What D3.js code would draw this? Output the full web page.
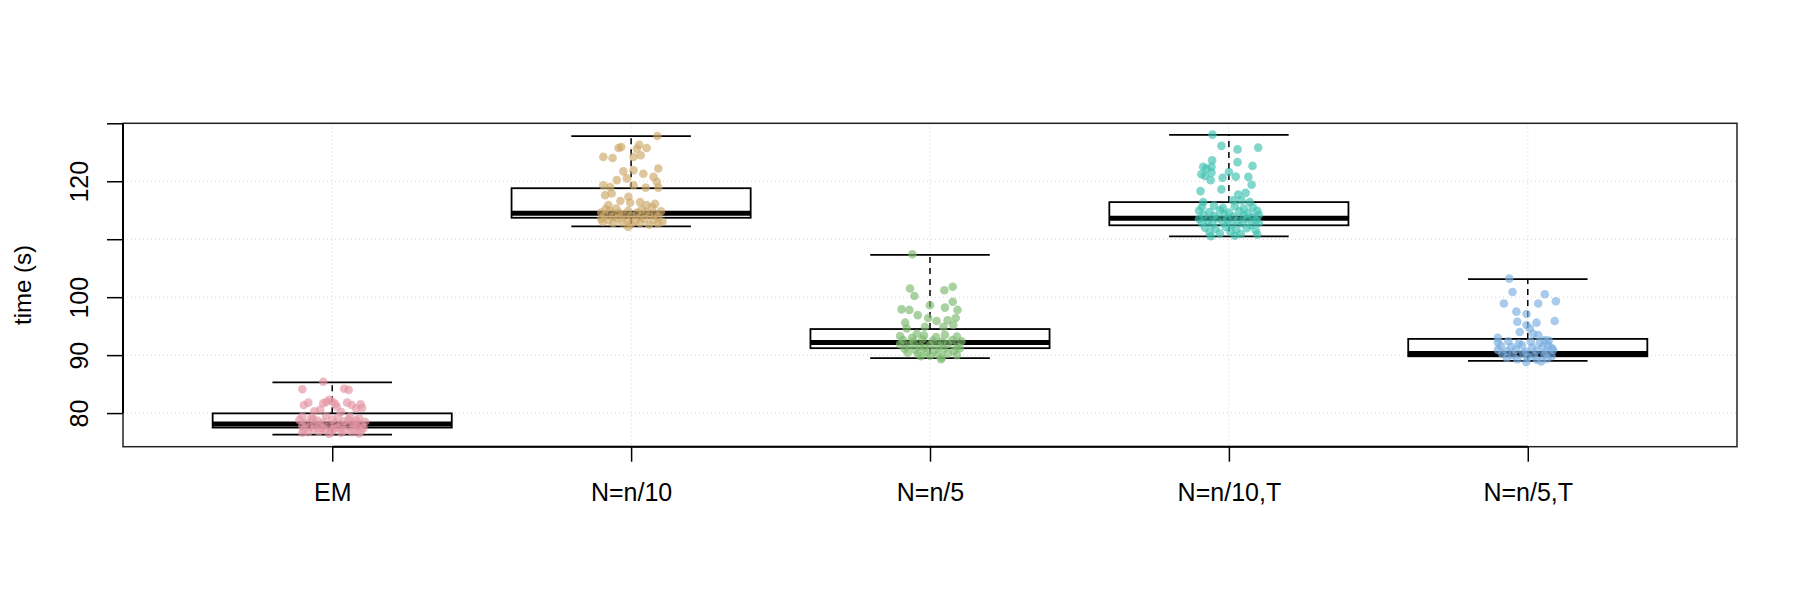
<!DOCTYPE html>
<html>
<head>
<meta charset="utf-8">
<script src="https://cdn.jsdelivr.net/npm/d3@7"></script>
<style>
  body { margin: 0; background: #fff; }
  svg text { font-family: "Liberation Sans", Arial, sans-serif; }
</style>
</head>
<body>
<svg id="chart" width="1800" height="600"></svg>
<script>
// groups and box stats
var categories = ['EM', 'N=n/10', 'N=n/5', 'N=n/10,T', 'N=n/5,T'];
var colors = ['#E495A5', '#CDA869', '#7DBA6E', '#3EC1B0', '#7AAEE0'];

var lowerWhisker = [76.3, 112.2, 89.5, 110.5, 89.0];
var q1 = [77.5, 113.7, 91.2, 112.4, 89.8];
var medians = [78.1, 114.5, 92.2, 113.6, 90.3];
var q3 = [79.95, 118.8, 94.5, 116.4, 92.8];
var upperWhisker = [85.3, 127.8, 107.3, 128.0, 103.1];

var yTicks = [80, 90, 100, 110, 120, 130];
var yTickLabels = ['80', '90', '100', '', '120', ''];

// jittered points: [x offset from group centre, seconds]
var emPoints = [
  [-0.03, 85.4], [-0.10, 84.1], [0.04, 84.2], [0.055, 84.0], [-0.01, 82.3], [0.0, 82.0],
  [-0.08, 81.8], [-0.095, 81.4], [-0.03, 81.7], [-0.02, 81.9], [0.01, 81.6], [0.015, 81.1],
  [0.05, 81.8], [0.065, 81.4], [0.095, 81.5], [0.08, 80.8], [-0.04, 80.6], [0.1, 80.9],
  [-0.06, 80.3], [0.03, 80.2],
  [-0.10, 79.4], [-0.07, 79.2], [-0.02, 79.5], [0.02, 79.3], [0.06, 79.4], [0.09, 79.1],
  [-0.11, 78.8], [-0.05, 78.7], [0.0, 78.9], [0.04, 78.6], [0.08, 78.7], [0.11, 78.5],
  [-0.09, 78.3], [-0.06, 78.1], [-0.03, 78.4], [0.01, 78.2], [0.03, 78.0], [0.07, 78.3],
  [0.10, 78.0], [-0.10, 77.8], [-0.075, 77.6], [-0.04, 77.9], [-0.01, 77.7], [0.02, 77.5],
  [0.05, 77.8], [0.085, 77.6], [0.105, 77.4], [-0.095, 77.2], [-0.06, 77.3], [-0.025, 77.1],
  [0.005, 77.3], [0.04, 77.0], [0.07, 77.2], [0.095, 76.9], [-0.08, 76.7], [-0.045, 76.8],
  [-0.01, 76.4], [0.03, 76.6], [0.065, 76.7], [0.09, 76.5], [-0.1, 76.6], [0.0, 76.9],
  [-0.065, 78.9], [0.055, 78.9], [-0.035, 77.4], [0.075, 77.9]
];
var n10Points = [
  [0.088, 127.8], [-0.042, 125.75], [-0.033, 125.9], [0.019, 125.6], [0.027, 126.3], [0.052, 125.75],
  [-0.093, 124.2], [-0.062, 124.0], [0.008, 124.2], [0.032, 124.5], [-0.026, 121.7], [0.008, 121.9],
  [0.041, 121.3], [0.091, 122.2], [-0.048, 120.2], [-0.014, 120.5], [0.075, 120.75], [0.086, 119.9],
  [-0.093, 119.3], [-0.07, 119.0], [0.008, 119.3], [0.049, 118.9], [0.091, 118.9], [-0.087, 117.6],
  [-0.065, 117.9], [-0.076, 115.9], [-0.036, 116.6], [-0.009, 117.3], [-0.003, 116.3], [0.03, 116.4],
  [0.052, 115.9], [0.08, 116.1],
  [-0.10, 114.6], [-0.07, 114.8], [-0.04, 114.5], [-0.01, 114.9], [0.02, 114.6], [0.05, 114.7],
  [0.08, 114.4], [0.10, 114.8], [-0.09, 114.1], [-0.06, 113.9], [-0.03, 114.2], [0.0, 114.0],
  [0.03, 113.8], [0.06, 114.1], [0.09, 113.9], [-0.10, 113.5], [-0.075, 113.3], [-0.045, 113.6],
  [-0.015, 113.4], [0.015, 113.2], [0.045, 113.5], [0.075, 113.3], [0.105, 113.0], [-0.095, 113.0],
  [-0.06, 112.8], [-0.03, 112.9], [0.0, 112.6], [0.03, 112.8], [0.06, 112.5], [0.09, 112.7],
  [-0.01, 112.1], [-0.05, 115.3], [0.035, 115.1], [0.07, 115.5], [-0.085, 115.2]
];
var n5Points = [
  [-0.059, 107.4], [-0.067, 101.5], [-0.052, 100.2], [0.048, 101.2], [0.076, 101.8], [0.076, 99.2],
  [0.0, 98.6], [-0.095, 97.9], [-0.069, 97.8], [-0.041, 96.9], [0.05, 98.2], [0.092, 97.8],
  [-0.006, 96.4], [0.022, 95.9], [0.059, 96.0], [0.086, 96.4], [-0.083, 95.6], [-0.017, 94.9],
  [-0.078, 94.6], [-0.044, 93.7], [0.045, 94.9], [0.078, 95.2],
  [-0.10, 93.3], [-0.06, 93.0], [-0.02, 93.4], [0.02, 93.1], [0.05, 93.5], [0.09, 93.2],
  [-0.09, 92.6], [-0.055, 92.4], [-0.025, 92.7], [0.01, 92.5], [0.04, 92.3], [0.075, 92.6],
  [0.105, 92.4], [-0.10, 91.9], [-0.07, 91.7], [-0.035, 91.5], [0.0, 91.8], [0.03, 91.6],
  [0.06, 91.9], [0.09, 91.5], [-0.085, 91.1], [-0.05, 90.9], [-0.02, 91.2], [0.015, 90.8],
  [0.045, 91.0], [0.08, 90.7], [0.10, 91.2], [-0.075, 90.4], [-0.04, 90.2], [-0.01, 90.5],
  [0.025, 90.1], [0.06, 90.3], [0.09, 90.0], [-0.03, 89.8], [0.04, 89.6], [0.0, 89.9], [0.037, 89.3]
];
var n10tPoints = [
  [-0.055, 128.05], [-0.025, 126.1], [0.029, 125.5], [0.098, 125.8], [-0.056, 123.6], [0.029, 123.3],
  [-0.086, 122.5], [-0.075, 122.2], [-0.058, 122.5], [0.079, 122.65], [-0.092, 121.2], [-0.08, 120.9],
  [-0.058, 121.5], [0.0, 121.6], [-0.021, 120.6], [0.023, 120.8], [-0.061, 120.2], [0.065, 120.75],
  [0.076, 119.4], [-0.025, 118.6], [0.056, 118.0], [-0.095, 118.3], [0.031, 117.7], [-0.086, 116.4],
  [0.014, 116.7], [0.042, 116.7], [0.07, 116.4],
  [-0.09, 115.6], [-0.05, 115.8], [-0.02, 115.4], [0.02, 115.7], [0.05, 115.3], [0.08, 115.5],
  [-0.10, 114.9], [-0.065, 114.7], [-0.03, 115.0], [0.0, 114.6], [0.035, 114.8], [0.065, 114.5],
  [0.095, 114.9], [-0.085, 114.2], [-0.05, 114.0], [-0.015, 114.3], [0.015, 113.9], [0.05, 114.1],
  [0.08, 113.8], [0.10, 114.2], [-0.10, 113.5], [-0.07, 113.3], [-0.04, 113.6], [-0.005, 113.4],
  [0.03, 113.2], [0.06, 113.5], [0.09, 113.3], [-0.09, 112.8], [-0.055, 112.6], [-0.02, 112.9],
  [0.01, 112.5], [0.045, 112.7], [0.075, 112.4], [0.10, 112.8], [-0.08, 112.0], [-0.045, 111.8],
  [-0.01, 112.1], [0.025, 111.7], [0.06, 111.9], [0.09, 111.5], [-0.065, 111.2], [-0.03, 111.0],
  [0.005, 111.3], [0.04, 110.9], [0.095, 110.8], [-0.06, 110.5], [0.02, 110.6]
];
var n5tPoints = [
  [-0.062, 103.2], [-0.051, 100.9], [0.057, 100.5], [-0.08, 98.9], [0.035, 98.9], [0.094, 99.3],
  [-0.038, 97.5], [-0.004, 97.1], [-0.035, 95.75], [0.029, 95.6], [0.09, 95.9], [-0.004, 95.2],
  [0.007, 94.6], [-0.027, 94.0], [0.018, 93.7], [0.035, 93.45], [-0.1, 93.0], [0.057, 92.6],
  [0.068, 91.7],
  [-0.10, 92.2], [-0.065, 92.4], [-0.03, 92.0], [0.01, 92.3], [0.04, 92.1], [0.07, 92.5],
  [-0.09, 91.6], [-0.055, 91.4], [-0.02, 91.7], [0.015, 91.3], [0.05, 91.5], [0.08, 91.2],
  [-0.10, 90.9], [-0.07, 90.7], [-0.04, 90.9], [-0.005, 90.6], [0.03, 90.8], [0.06, 90.5],
  [0.085, 90.9], [-0.085, 90.2], [-0.05, 90.0], [-0.015, 90.3], [0.02, 89.9], [0.055, 90.1],
  [0.08, 89.8], [-0.07, 89.5], [-0.035, 89.3], [0.0, 89.6], [0.03, 89.2], [0.065, 89.4],
  [0.045, 88.9], [-0.005, 88.8]
];
var groupPoints = [emPoints, n10Points, n5Points, n10tPoints, n5tPoints];

var svg = d3.select('#chart');
// plot region (window.top is read-only, so no bare "top")
var plotLeft = 123, plotRight = 1737, plotTop = 123.3, plotBottom = 446.7;

var x = d3.scaleLinear().domain([0.3, 5.7]).range([plotLeft, plotRight]);
var y = d3.scaleLinear().domain([74.2, 130]).range([plotBottom, plotTop]);
var boxHalf = 0.4, capHalf = 0.2;
var fontStack = '"Liberation Sans", Arial, sans-serif';

// grid
var grid = svg.append('g').attr('stroke', '#d3d3d3').attr('stroke-width', 1)
  .attr('stroke-dasharray', '1,3');
grid.selectAll('line.h').data(yTicks).enter().append('line')
  .attr('x1', plotLeft).attr('x2', plotRight)
  .attr('y1', function(d) { return y(d); }).attr('y2', function(d) { return y(d); });
grid.selectAll('line.v').data(categories).enter().append('line')
  .attr('x1', function(d, i) { return x(i + 1); }).attr('x2', function(d, i) { return x(i + 1); })
  .attr('y1', plotTop).attr('y2', plotBottom);

// boxes
var boxes = svg.append('g').attr('stroke', '#000');
categories.forEach(function(c, i) {
  var g = boxes.append('g');
  var cx = x(i + 1);
  g.append('line').attr('x1', cx).attr('x2', cx)
    .attr('y1', y(q3[i])).attr('y2', y(upperWhisker[i]))
    .attr('stroke-width', 1.5).attr('stroke-dasharray', '6,5');
  g.append('line').attr('x1', cx).attr('x2', cx)
    .attr('y1', y(q1[i])).attr('y2', y(lowerWhisker[i]))
    .attr('stroke-width', 1.5).attr('stroke-dasharray', '6,5');
  [upperWhisker[i], lowerWhisker[i]].forEach(function(v) {
    g.append('line').attr('x1', x(i + 1 - capHalf)).attr('x2', x(i + 1 + capHalf))
      .attr('y1', y(v)).attr('y2', y(v)).attr('stroke-width', 1.8);
  });
  g.append('rect')
    .attr('x', x(i + 1 - boxHalf)).attr('width', x(i + 1 + boxHalf) - x(i + 1 - boxHalf))
    .attr('y', y(q3[i])).attr('height', y(q1[i]) - y(q3[i]))
    .attr('fill', '#fff').attr('stroke-width', 1.8);
  g.append('line').attr('x1', x(i + 1 - boxHalf)).attr('x2', x(i + 1 + boxHalf))
    .attr('y1', y(medians[i])).attr('y2', y(medians[i])).attr('stroke-width', 5);
});

// jittered points
categories.forEach(function(c, i) {
  svg.append('g').selectAll('circle').data(groupPoints[i]).enter().append('circle')
    .attr('cx', function(d) { return x(i + 1 + d[0]); })
    .attr('cy', function(d) { return y(d[1]); })
    .attr('r', 4.3)
    .attr('fill', colors[i])
    .attr('fill-opacity', 0.65);
});

// frame
svg.append('rect').attr('x', plotLeft).attr('y', plotTop)
  .attr('width', plotRight - plotLeft).attr('height', plotBottom - plotTop)
  .attr('fill', 'none').attr('stroke', '#222').attr('stroke-width', 1.5);

// axes
var xAxis = d3.axisBottom(x).tickValues([1, 2, 3, 4, 5])
  .tickFormat(function(d) { return categories[d - 1]; })
  .tickSize(15).tickPadding(22);
var gx = svg.append('g').attr('transform', 'translate(0,' + plotBottom + ')').call(xAxis);
gx.select('.domain').attr('d', 'M' + x(1) + ',0H' + x(5)).attr('stroke-width', 2);
gx.selectAll('.tick line').attr('stroke-width', 1.5);
gx.selectAll('text').attr('font-size', 25).attr('fill', '#000').attr('font-family', fontStack);

var yAxis = d3.axisLeft(y).tickValues(yTicks)
  .tickFormat(function(d, i) { return yTickLabels[i]; })
  .tickSize(16);
var gy = svg.append('g').attr('transform', 'translate(' + plotLeft + ',0)').call(yAxis);
gy.select('.domain').attr('d', 'M0,' + y(80) + 'V' + y(130)).attr('stroke-width', 2);
gy.selectAll('.tick line').attr('stroke-width', 1.5);
gy.selectAll('text').remove();
gy.selectAll('.tick').append('text')
  .attr('transform', 'translate(-35,0) rotate(-90)')
  .attr('text-anchor', 'middle')
  .attr('font-size', 25).attr('fill', '#000').attr('font-family', fontStack)
  .text(function(d, i) { return yTickLabels[i]; });

svg.append('text')
  .attr('transform', 'translate(31,' + ((plotTop + plotBottom) / 2) + ') rotate(-90)')
  .attr('text-anchor', 'middle').attr('font-size', 24).attr('font-family', fontStack)
  .text('time (s)');
</script>
</body>
</html>
